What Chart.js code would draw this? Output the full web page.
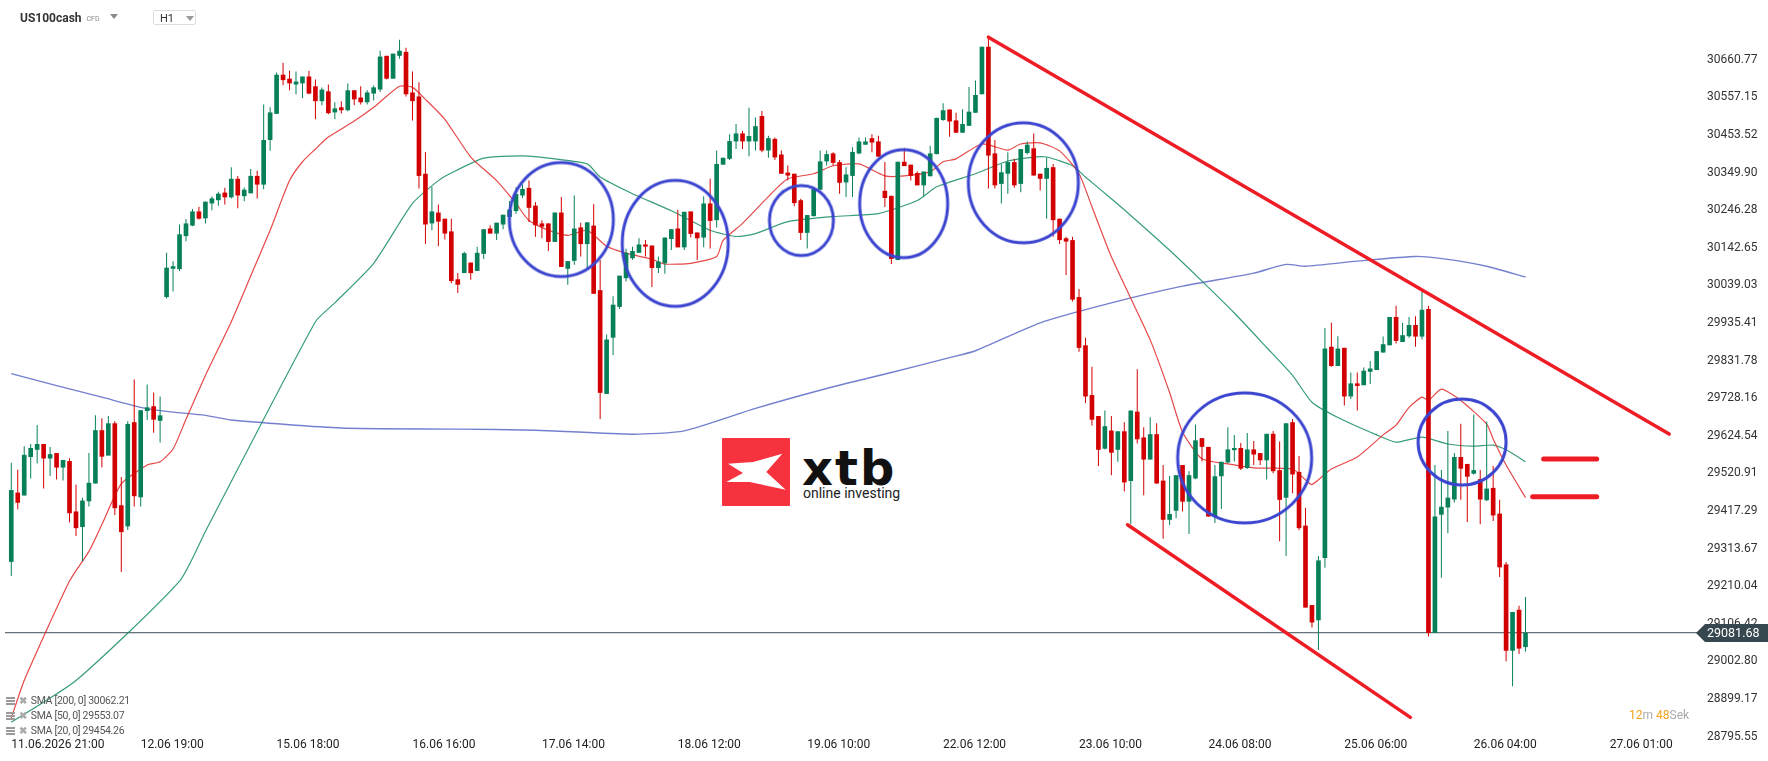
<!DOCTYPE html>
<html>
<head>
<meta charset="utf-8">
<script src="https://cdn.jsdelivr.net/npm/chart.js@4.4.1/dist/chart.umd.min.js"></script>
<style>
  html, body { margin: 0; padding: 0; background: #fff; }
  #wrap { position: relative; width: 1768px; height: 761px; font-family: Roboto, sans-serif; overflow: hidden; }
  #chart { position: absolute; left: 0; top: 0; z-index: 2; }
  .tri { display: inline-block; width: 0; height: 0; border-left: 4px solid transparent; border-right: 4px solid transparent; border-top: 5px solid #8a8a8a; }
  #sym { position: absolute; left: 20px; top: 11px; z-index: 3; font-weight: bold; font-size: 12px; color: #333; }
  #sym .cfd { font-weight: normal; font-size: 7px; color: #888; margin-left: 5px; vertical-align: 1px; }
  #sym .tri { margin-left: 10px; vertical-align: 3px; }
  #tf { position: absolute; left: 153px; top: 10px; width: 43px; height: 15px; border: 1px solid #ddd; border-radius: 2px; z-index: 3; font-size: 11px; color: #333; box-sizing: border-box; padding: 1px 0 0 6px; }
  #tf .tri { position: absolute; left: 32px; top: 5px; border-top-color: #999; }
  #legend { position: absolute; left: 6px; top: 693px; z-index: 3; font-size: 10.5px; color: #555; letter-spacing: -0.3px; }
  #legend div { height: 15px; line-height: 15px; white-space: nowrap; }
  #legend .ico { display: inline-block; width: 9px; height: 8px; margin-right: 4px; vertical-align: -1px;
    background: repeating-linear-gradient(#9a9a9a 0 2px, transparent 2px 3px); }
  #legend .x { color: #aaa; font-weight: bold; margin-right: 4px; font-size: 10px; }
  #timer { position: absolute; left: 1629px; top: 708px; z-index: 3; font-size: 12px; color: #aaa; }
  #timer b { font-weight: normal; color: #f2a21b; }
  #logo { position: absolute; left: 722px; top: 438px; z-index: 1; }
  #logo .sq { position: absolute; left: 0; top: 0; width: 68px; height: 68px; background: #f7323f; border-radius: 1px; }
  #logo .word { position: absolute; left: 80px; top: 6px; font-family: "DejaVu Sans", sans-serif; font-weight: bold; font-size: 48px; line-height: 48px; letter-spacing: 2px; color: #111; }
  #logo .sub { position: absolute; left: 81px; top: 48px; font-size: 14px; line-height: 14px; color: #222; white-space: nowrap; }
</style>
</head>
<body>
<div id="wrap">
  <div id="logo">
    <div class="sq"><svg width="68" height="68"><polygon points="6,25.7 31,24 60.3,15.7 44.3,34 63.7,51.7 27.7,44 4.3,44 21,35" fill="#fff"/></svg></div>
    <div class="word">xtb</div>
    <div class="sub">online investing</div>
  </div>
  <canvas id="chart" width="1768" height="761"></canvas>
  <div id="sym">US100cash<span class="cfd">CFD</span><span class="tri"></span></div>
  <div id="tf">H1<span class="tri"></span></div>
  <div id="legend">
    <div><span class="ico"></span><span class="x">✖</span>SMA [200, 0] 30062.21</div>
    <div><span class="ico"></span><span class="x">✖</span>SMA [50, 0] 29553.07</div>
    <div><span class="ico"></span><span class="x">✖</span>SMA [20, 0] 29454.26</div>
  </div>
  <div id="timer"><b>12</b>m <b>48</b>Sek</div>
</div>
<script>
// x axis: one step per hourly bar, labels sit on these bar numbers
const tickBars = [0, 20, 41, 62, 82, 103, 123, 144, 165, 185, 206, 226, 247];
const tickLabels = ['11.06.2026 21:00', '12.06 19:00', '15.06 18:00', '16.06 16:00', '17.06 14:00', '18.06 12:00',
  '19.06 10:00', '22.06 12:00', '23.06 10:00', '24.06 08:00', '25.06 06:00', '26.06 04:00', '27.06 01:00'];
const priceTicks = [28795.55, 28899.17, 29002.80, 29106.42, 29210.04, 29313.67, 29417.29, 29520.91, 29624.54,
  29728.16, 29831.78, 29935.41, 30039.03, 30142.65, 30246.28, 30349.90, 30453.52, 30557.15, 30660.77];
const lastPrice = 29081.68;

// H1 candles
const opens = [
  29277, 29468, 29460, 29566, 29586, 29602, 29562, 29577, 29537, 29555,
  29416, 29373, 29444, 29493, 29640, 29570, 29659, 29433, 29375, 29662,
  29455, 29693, 29706, 29666, 30007, 30085, 30084, 30175, 30204, 30243,
  30224, 30265, 30274, 30295, 30282, 30333, 30285, 30293, 30341, 30317,
  30440, 30512, 30620, 30609, 30593, 30596, 30615, 30588, 30547, 30574,
  30516, 30530, 30522, 30577, 30557, 30544, 30568, 30579, 30672, 30609,
  30672, 30683, 30571, 30560, 30347, 30210, 30240, 30223, 30188, 30056,
  30073, 30102, 30079, 30126, 30196, 30182, 30207, 30228, 30244, 30287,
  30308, 30259, 30210, 30210, 30159, 30240, 30085, 30107, 30199, 30153,
  30204, 30026, 29740, 29895, 29980, 30059, 30114, 30129, 30152, 30149,
  30087, 30100, 30167, 30196, 30144, 30243, 30185, 30171, 30265, 30219,
  30372, 30388, 30436, 30458, 30436, 30436, 30506, 30411, 30443, 30400,
  30350, 30347, 30274, 30184, 30230, 30303, 30381, 30403, 30379, 30323,
  30341, 30403, 30427, 30445, 30436, 30300, 30286, 30109, 30380, 30372,
  30349, 30315, 30340, 30401, 30495, 30524, 30494, 30460, 30479, 30515,
  30566, 30697, 30403, 30319, 30347, 30379, 30319, 30404, 30417, 30347,
  30333, 30365, 30223, 30169, 30164, 30007, 29874, 29737, 29679, 29589,
  29639, 29586, 29637, 29500, 29691, 29620, 29559, 29629, 29501, 29393,
  29418, 29544, 29443, 29507, 29618, 29594, 29402, 29513, 29551, 29585,
  29591, 29536, 29587, 29577, 29557, 29630, 29530, 29454, 29662, 29525,
  29377, 29158, 29116, 29288, 29870, 29817, 29867, 29733, 29769, 29764,
  29801, 29806, 29854, 29874, 29952, 29883, 29899, 29930, 29898, 29974,
  29081, 29407, 29427, 29449, 29566, 29547, 29520, 29505, 29447, 29481,
  29410, 29270, 29032, 29145, 29042
];
const highs = [
  29550, 29531, 29596, 29602, 29654, 29602, 29594, 29577, 29558, 29563,
  29490, 29454, 29577, 29681, 29673, 29679, 29665, 29511, 29665, 29780,
  29695, 29766, 29744, 29733, 30129, 30106, 30207, 30222, 30250, 30256,
  30270, 30284, 30297, 30308, 30365, 30341, 30309, 30360, 30355, 30538,
  30530, 30626, 30653, 30631, 30629, 30615, 30631, 30607, 30585, 30593,
  30544, 30547, 30596, 30577, 30588, 30577, 30590, 30686, 30672, 30678,
  30716, 30694, 30629, 30599, 30407, 30311, 30262, 30223, 30223, 30073,
  30132, 30102, 30146, 30194, 30205, 30212, 30234, 30272, 30310, 30318,
  30328, 30269, 30219, 30210, 30240, 30283, 30106, 30287, 30212, 30213,
  30263, 30109, 29904, 30009, 30066, 30140, 30146, 30169, 30164, 30149,
  30119, 30171, 30194, 30248, 30242, 30243, 30185, 30285, 30333, 30411,
  30391, 30456, 30484, 30465, 30529, 30502, 30520, 30452, 30447, 30411,
  30370, 30347, 30278, 30233, 30305, 30411, 30411, 30406, 30385, 30365,
  30420, 30447, 30447, 30456, 30452, 30379, 30286, 30380, 30418, 30372,
  30354, 30353, 30424, 30501, 30541, 30524, 30515, 30525, 30586, 30604,
  30697, 30724, 30440, 30374, 30406, 30388, 30415, 30436, 30458, 30347,
  30392, 30374, 30223, 30173, 30173, 30029, 29895, 29815, 29679, 29694,
  29679, 29637, 29662, 29694, 29808, 29648, 29676, 29659, 29544, 29514,
  29516, 29544, 29527, 29656, 29618, 29594, 29544, 29553, 29648, 29627,
  29605, 29632, 29610, 29577, 29630, 29638, 29609, 29659, 29671, 29569,
  29426, 29158, 29293, 29922, 29936, 29899, 29867, 29799, 29799, 29813,
  29831, 29858, 29898, 29952, 29983, 29936, 29952, 29954, 30027, 29983,
  29544, 29530, 29638, 29577, 29658, 29547, 29683, 29530, 29664, 29541,
  29448, 29277, 29139, 29156, 29180
];
const lows = [
  29238, 29422, 29460, 29507, 29548, 29479, 29514, 29504, 29501, 29386,
  29348, 29279, 29430, 29493, 29537, 29570, 29406, 29249, 29365, 29430,
  29430, 29668, 29633, 29606, 30003, 30022, 30079, 30161, 30202, 30221,
  30210, 30246, 30259, 30262, 30279, 30252, 30271, 30293, 30279, 30304,
  30410, 30512, 30591, 30577, 30566, 30556, 30566, 30497, 30536, 30511,
  30497, 30513, 30519, 30536, 30538, 30538, 30549, 30572, 30607, 30609,
  30664, 30560, 30494, 30306, 30153, 30191, 30147, 30166, 30045, 30018,
  30073, 30055, 30079, 30112, 30182, 30164, 30194, 30228, 30237, 30280,
  30214, 30173, 30169, 30134, 30159, 30090, 30041, 30096, 30119, 30082,
  30016, 29671, 29740, 29847, 29974, 30050, 30110, 30129, 30119, 30035,
  30073, 30071, 30137, 30144, 30137, 30171, 30109, 30144, 30141, 30199,
  30372, 30385, 30415, 30415, 30395, 30411, 30406, 30391, 30385, 30347,
  30328, 30257, 30164, 30141, 30230, 30303, 30370, 30370, 30292, 30283,
  30283, 30401, 30427, 30406, 30394, 30255, 30098, 30109, 30368, 30328,
  30315, 30285, 30340, 30401, 30493, 30449, 30460, 30460, 30479, 30515,
  30566, 30306, 30306, 30265, 30292, 30308, 30296, 30401, 30342, 30301,
  30223, 30173, 30153, 30068, 29995, 29856, 29715, 29653, 29541, 29587,
  29516, 29553, 29471, 29381, 29603, 29461, 29559, 29493, 29341, 29379,
  29397, 29416, 29354, 29505, 29554, 29402, 29384, 29423, 29548, 29554,
  29530, 29533, 29544, 29544, 29504, 29521, 29334, 29293, 29466, 29364,
  29151, 29096, 29034, 29261, 29815, 29817, 29708, 29726, 29694, 29764,
  29767, 29806, 29854, 29874, 29879, 29883, 29895, 29870, 29890, 29071,
  29081, 29233, 29356, 29441, 29448, 29387, 29518, 29381, 29445, 29390,
  29235, 29003, 28934, 29023, 29030
];
const closes = [
  29475, 29440, 29572, 29591, 29602, 29562, 29574, 29537, 29558, 29411,
  29370, 29446, 29495, 29640, 29567, 29659, 29425, 29359, 29657, 29458,
  29695, 29703, 29669, 29681, 30088, 30092, 30180, 30210, 30243, 30223,
  30270, 30279, 30292, 30282, 30333, 30287, 30303, 30341, 30317, 30440,
  30516, 30620, 30605, 30596, 30601, 30615, 30568, 30547, 30579, 30514,
  30527, 30522, 30577, 30552, 30544, 30571, 30585, 30670, 30609, 30678,
  30686, 30566, 30547, 30341, 30207, 30243, 30215, 30182, 30051, 30041,
  30128, 30073, 30129, 30194, 30182, 30212, 30234, 30248, 30291, 30305,
  30253, 30205, 30201, 30159, 30240, 30090, 30106, 30196, 30153, 30213,
  30016, 29743, 29890, 29986, 30066, 30129, 30134, 30152, 30146, 30087,
  30105, 30171, 30194, 30144, 30242, 30181, 30169, 30265, 30217, 30374,
  30391, 30437, 30458, 30436, 30451, 30478, 30411, 30445, 30392, 30347,
  30342, 30266, 30184, 30233, 30305, 30381, 30401, 30377, 30322, 30345,
  30407, 30436, 30436, 30433, 30394, 30280, 30112, 30380, 30368, 30341,
  30315, 30353, 30403, 30501, 30522, 30491, 30460, 30484, 30518, 30564,
  30697, 30397, 30315, 30351, 30379, 30315, 30415, 30427, 30342, 30333,
  30363, 30219, 30164, 30160, 30000, 29867, 29733, 29669, 29586, 29651,
  29578, 29637, 29496, 29694, 29615, 29559, 29629, 29493, 29393, 29409,
  29516, 29443, 29516, 29612, 29594, 29402, 29513, 29553, 29587, 29591,
  29534, 29587, 29573, 29557, 29630, 29527, 29448, 29659, 29518, 29370,
  29151, 29110, 29281, 29865, 29817, 29865, 29733, 29769, 29762, 29804,
  29810, 29858, 29877, 29952, 29886, 29902, 29930, 29898, 29972, 29081,
  29402, 29429, 29454, 29566, 29534, 29512, 29530, 29449, 29479, 29405,
  29262, 29032, 29139, 29038, 29081.68
];

// moving averages at these bars
const sma200Bars = [0, 7, 14, 20, 24, 30, 34, 51, 69, 81, 96, 104, 115, 126, 136, 145, 149, 159, 170, 181, 192, 197, 200, 208, 217, 222, 228, 234];
const sma200Vals = [29796, 29763, 29731, 29703, 29692, 29681, 29668, 29646, 29643, 29640, 29629, 29638, 29700, 29755, 29799, 29840, 29859, 29936, 29991, 30037, 30073, 30097, 30092, 30106, 30119, 30111, 30092, 30062.21];
const sma50Bars = [0, 10, 26, 30, 47, 50, 56, 62, 66, 68, 73, 79, 84, 89, 91, 96, 102, 108, 112, 115, 120, 127, 134, 140, 143, 149, 154, 158, 160, 164, 166, 170, 173, 179, 184, 189, 194, 198, 201, 205, 211, 214, 218, 222, 226, 229, 231, 234];
const sma50Vals = [28835, 28950, 29224, 29361, 29939, 29991, 30100, 30265, 30328, 30349, 30390, 30396, 30388, 30374, 30338, 30292, 30245, 30191, 30174, 30182, 30215, 30229, 30237, 30273, 30311, 30347, 30382, 30393, 30393, 30369, 30338, 30278, 30232, 30136, 30051, 29963, 29868, 29791, 29717, 29675, 29627, 29607, 29621, 29602, 29596, 29599, 29586, 29553.07];
const sma20Bars = [0, 2, 9, 12, 14, 17, 21, 23, 25, 27, 30, 34, 37, 40, 43, 45, 47, 49, 53, 56, 60, 62, 64, 67, 71, 75, 78, 80, 83, 86, 89, 92, 95, 99, 101, 105, 109, 110, 113, 117, 120, 124, 127, 131, 135, 138, 142, 144, 146, 150, 154, 156, 159, 162, 165, 167, 170, 176, 179, 181, 184, 188, 192, 198, 200, 201, 204, 208, 212, 214, 216, 218, 219, 221, 224, 228, 229, 231, 234];
const sma20Vals = [28846, 28950, 29224, 29306, 29380, 29492, 29544, 29553, 29588, 29670, 29791, 29939, 30065, 30191, 30328, 30380, 30415, 30448, 30492, 30530, 30588, 30585, 30552, 30497, 30393, 30328, 30265, 30218, 30191, 30177, 30191, 30147, 30128, 30111, 30098, 30100, 30119, 30163, 30210, 30284, 30333, 30347, 30369, 30374, 30341, 30341, 30352, 30380, 30388, 30429, 30412, 30429, 30432, 30410, 30347, 30256, 30118, 29889, 29744, 29635, 29561, 29547, 29536, 29533, 29503, 29490, 29533, 29566, 29627, 29654, 29703, 29731, 29722, 29753, 29722, 29657, 29616, 29544, 29454.26];

// drawn annotations
const trendUpBars = [151, 256.2];
const trendUpPrices = [30723.5, 29629.3];
const trendLowBars = [172.5, 216.2];
const trendLowPrices = [29379.3, 28848.4];
const levelHiBars = [236.8, 245];
const levelHiPrice = 29560.8;
const levelLoBars = [235.1, 245];
const levelLoPrice = 29456.8;
const ringBars = [85.0, 102.6, 122.1, 137.9, 156.4, 190.6, 224.2];
const ringPrices = [30220.7, 30155.0, 30218.0, 30264.5, 30322.0, 29563.6, 29607.4];

// view window
const xMin = -0.97, xMax = 260.5;
const yMin = 28791.5, yMax = 30812.1;

const GREEN = '#07805a';
const RED = '#d30000';
const ringRadii = [[52, 57], [53, 63], [32, 35], [44, 54], [55, 60], [67, 65], [44, 43]];

function ring(rx, ry) {
  const c = document.createElement('canvas');
  c.width = Math.ceil(rx * 2 + 6);
  c.height = Math.ceil(ry * 2 + 6);
  const g = c.getContext('2d');
  g.strokeStyle = '#3a44cf';
  g.lineWidth = 3;
  g.beginPath();
  g.ellipse(c.width / 2, c.height / 2, rx, ry, 0, 0, Math.PI * 2);
  g.stroke();
  return c;
}

const pts = (bars, vals) => bars.map((b, k) => ({x: b, y: vals[k]}));
const candleColor = opens.map((o, i) => closes[i] >= o ? GREEN : RED);

const priceTag = {
  id: 'priceTag',
  afterDraw(chart) {
    const {ctx, chartArea} = chart;
    const py = Math.round(chart.scales.y.getPixelForValue(lastPrice));
    const x0 = chartArea.right;
    ctx.save();
    ctx.fillStyle = '#37474f';
    ctx.beginPath();
    ctx.moveTo(x0 - 1, py);
    ctx.lineTo(x0 + 8, py - 9);
    ctx.lineTo(chart.width, py - 9);
    ctx.lineTo(chart.width, py + 9);
    ctx.lineTo(x0 + 8, py + 9);
    ctx.closePath();
    ctx.fill();
    ctx.fillStyle = '#fff';
    ctx.font = '12.5px Roboto';
    ctx.textBaseline = 'middle';
    ctx.fillText(lastPrice.toFixed(2), x0 + 10, py + 1);
    ctx.restore();
  }
};

Chart.defaults.font.family = 'Roboto';

new Chart(document.getElementById('chart'), {
  type: 'bar',
  data: {
    datasets: [
      {
        type: 'line', data: pts(ringBars, ringPrices), showLine: false,
        pointRadius: 1, pointStyle: ringRadii.map(r => ring(r[0], r[1])), order: 0
      },
      { type: 'line', data: pts(trendUpBars, trendUpPrices), borderColor: '#ee1d25', borderWidth: 3.5, pointRadius: 0, borderCapStyle: 'round', order: 0 },
      { type: 'line', data: pts(trendLowBars, trendLowPrices), borderColor: '#ee1d25', borderWidth: 3.5, pointRadius: 0, borderCapStyle: 'round', order: 0 },
      { type: 'line', data: pts(levelHiBars, [levelHiPrice, levelHiPrice]), borderColor: '#ee1d25', borderWidth: 5, pointRadius: 0, borderCapStyle: 'round', order: 0 },
      { type: 'line', data: pts(levelLoBars, [levelLoPrice, levelLoPrice]), borderColor: '#ee1d25', borderWidth: 5, pointRadius: 0, borderCapStyle: 'round', order: 0 },
      {
        data: opens.map((o, i) => ({x: i, y: [o, closes[i]]})),
        backgroundColor: candleColor, grouped: false, maxBarThickness: 5, minBarLength: 1, order: 1
      },
      {
        data: opens.map((o, i) => ({x: i, y: [lows[i], highs[i]]})),
        backgroundColor: candleColor, grouped: false, maxBarThickness: 1, order: 1
      },
      { type: 'line', data: pts(sma20Bars, sma20Vals), borderColor: 'rgba(226,40,40,0.85)', borderWidth: 1.2, pointRadius: 0, tension: 0.2, order: 2 },
      { type: 'line', data: pts(sma50Bars, sma50Vals), borderColor: 'rgba(20,140,95,0.85)', borderWidth: 1.2, pointRadius: 0, tension: 0.2, order: 2 },
      { type: 'line', data: pts(sma200Bars, sma200Vals), borderColor: 'rgba(70,85,190,0.75)', borderWidth: 1.4, pointRadius: 0, tension: 0.2, order: 2 },
      { type: 'line', data: pts([xMin, xMax], [lastPrice, lastPrice]), borderColor: '#3c4d58', borderWidth: 1, pointRadius: 0, order: 3 }
    ]
  },
  options: {
    responsive: false,
    animation: false,
    events: [],
    layout: { padding: 0 },
    plugins: { legend: { display: false }, tooltip: { enabled: false } },
    scales: {
      x: {
        type: 'linear', min: xMin, max: xMax, offset: false,
        grid: { display: false, drawTicks: false }, border: { display: false },
        afterBuildTicks: s => { s.ticks = tickBars.map(v => ({value: v})); },
        afterFit: s => { s.height = 23; s.paddingLeft = 0; s.paddingRight = 0; },
        ticks: {
          align: 'start', padding: 0, autoSkip: false, maxRotation: 0,
          color: '#222', font: { size: 12 },
          callback: v => tickLabels[tickBars.indexOf(v)] ?? ''
        }
      },
      y: {
        position: 'right', min: yMin, max: yMax,
        grid: { display: false, drawTicks: false }, border: { display: false },
        afterBuildTicks: s => { s.ticks = priceTicks.map(v => ({value: v})); },
        afterFit: s => { s.width = 71; s.paddingTop = 0; s.paddingBottom = 0; },
        ticks: {
          padding: 10, autoSkip: false, color: '#333', font: { size: 12 },
          callback: v => v.toFixed(2)
        }
      }
    }
  },
  plugins: [priceTag]
});
</script>
</body>
</html>
